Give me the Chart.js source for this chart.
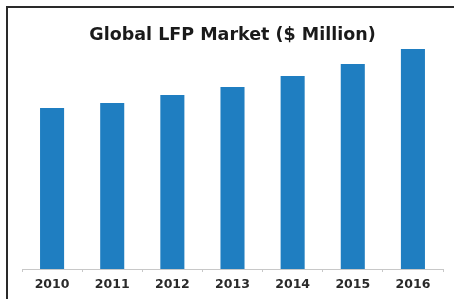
<!DOCTYPE html>
<html>
<head>
<meta charset="utf-8">
<script src="https://cdn.jsdelivr.net/npm/chart.js@4"></script>
<style>
    html, body { margin: 0; padding: 0; background: #fff; }
    #wrap { position: relative; width: 454px; height: 299px; overflow: hidden; }
    #frame {
        position: absolute; left: 6px; top: 6px; width: 460px; height: 310px;
        border-left: 2px solid #2a2a2a; border-top: 2px solid #2a2a2a;
    }
    canvas { position: absolute; left: 0; top: 0; }
</style>
</head>
<body>
<div id="wrap">
    <div id="frame"></div>
    <canvas id="myChart" width="454" height="299"></canvas>
</div>
<script>
const years = ['2010', '2011', '2012', '2013', '2014', '2015', '2016'];
const marketValues = [161, 166, 174, 182, 193, 205, 220];

const data = {
    labels: years,
    datasets: [{
        label: 'Global LFP Market',
        data: marketValues,
        backgroundColor: '#1f7ec1',
        borderWidth: 0,
        barPercentage: 0.4,
        categoryPercentage: 1.0
    }]
};

const config = {
    type: 'bar',
    data: data,
    options: {
        responsive: false,
        animation: false,
        layout: {
            padding: { left: 22, right: 11, top: 0, bottom: 2 }
        },
        plugins: {
            legend: { display: false },
            tooltip: { enabled: false },
            title: {
                display: true,
                text: 'Global LFP Market ($ Million)',
                color: '#1a1a1a',
                font: { family: 'DejaVu Sans', size: 17.5, weight: 'bold' },
                padding: { top: 24.5, bottom: 3.5 }
            }
        },
        scales: {
            x: {
                grid: {
                    offset: true,
                    drawOnChartArea: false,
                    tickLength: 3,
                    color: '#c8c8c8'
                },
                border: { color: '#c8c8c8', width: 1 },
                ticks: {
                    color: '#2a2a2a',
                    padding: 5,
                    font: { family: 'DejaVu Sans', size: 12.5, weight: 'bold' }
                }
            },
            y: {
                display: false,
                min: 0,
                max: 220
            }
        }
    }
};

const myChart = new Chart(document.getElementById('myChart'), config);
</script>
</body>
</html>
